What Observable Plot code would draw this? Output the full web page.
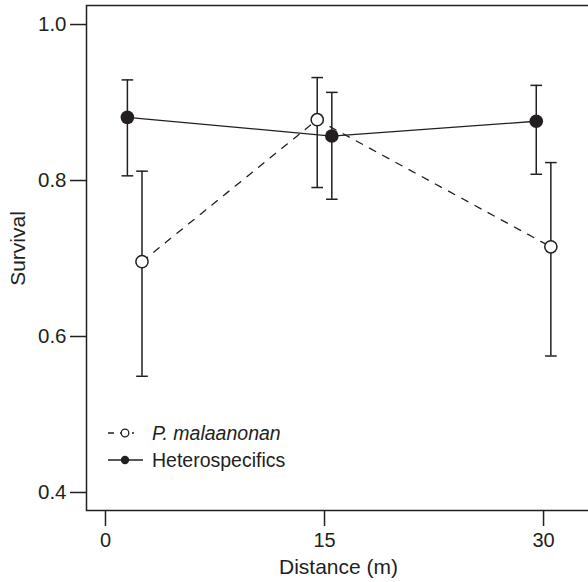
<!DOCTYPE html>
<html><head><meta charset="utf-8">
<script src="https://cdn.jsdelivr.net/npm/d3@7"></script>
<script src="https://cdn.jsdelivr.net/npm/@observablehq/plot@0.6"></script>
<style>html,body{margin:0;padding:0;overflow:hidden;background:#fff}#chart svg{max-width:none!important}</style>
</head><body><div id="chart"></div>
<script>
const series = ["P. malaanonan", "Heterospecifics"];
const xPM = [2.5, 14.5, 30.5];
const meanPM = [0.696, 0.878, 0.715];
const loPM = [0.549, 0.791, 0.575];
const hiPM = [0.812, 0.932, 0.823];
const xHet = [1.5, 15.5, 29.5];
const meanHet = [0.881, 0.857, 0.876];
const loHet = [0.806, 0.776, 0.808];
const hiHet = [0.929, 0.913, 0.922];
const xTicks = [0, 15, 30];
const yTicks = [0.4, 0.6, 0.8, 1.0];
const xLabel = "Distance (m)";
const yLabel = "Survival";

const ink = "#231f20";
const font = "Liberation Sans, Arial, Helvetica, sans-serif";
const W = 600, H = 582, ML = 86, MR = 0, MT = 5, MB = 72;

const pm = xPM.map((x, i) => ({x, m: meanPM[i], lo: loPM[i], hi: hiPM[i]}));
const het = xHet.map((x, i) => ({x, m: meanHet[i], lo: loHet[i], hi: hiHet[i]}));
const both = pm.concat(het);

const cap = {draw(ctx, size) { const w = Math.sqrt(size / Math.PI); ctx.moveTo(-w, 0); ctx.lineTo(w, 0); }};

function legend() {
  const g = d3.create("svg:g");
  const x0 = ML, y0 = H - MB;
  const rows = [y0 - 77, y0 - 50];
  g.append("line").attr("x1", x0 + 22).attr("x2", x0 + 48).attr("y1", rows[0]).attr("y2", rows[0])
    .attr("stroke", ink).attr("stroke-width", 1.3).attr("stroke-dasharray", "6,6");
  g.append("circle").attr("cx", x0 + 39).attr("cy", rows[0]).attr("r", 3.8)
    .attr("fill", "white").attr("stroke", ink).attr("stroke-width", 1.3);
  g.append("line").attr("x1", x0 + 22).attr("x2", x0 + 57).attr("y1", rows[1]).attr("y2", rows[1])
    .attr("stroke", ink).attr("stroke-width", 1.3);
  g.append("circle").attr("cx", x0 + 39).attr("cy", rows[1]).attr("r", 4.2).attr("fill", ink);
  series.forEach((s, i) => {
    g.append("text").attr("x", x0 + 66).attr("y", rows[i]).attr("dy", "0.35em")
      .attr("text-anchor", "start")
      .attr("fill", ink).attr("font-size", 19.5).attr("font-family", font)
      .attr("font-style", i === 0 ? "italic" : "normal").text(s);
  });
  return g.node();
}

const chart = Plot.plot({
  width: W, height: H,
  marginLeft: ML, marginRight: MR, marginTop: MT, marginBottom: MB,
  style: {fontFamily: font, color: ink, background: "white"},
  x: {domain: [-1.3, 33.9]},
  y: {domain: [0.3769, 1.0244]},
  marks: [
    Plot.frame({stroke: ink, strokeWidth: 1.5}),
    Plot.axisX({ticks: xTicks, tickSize: 16, tickPadding: 6, fontSize: 20, stroke: ink, strokeWidth: 1.5, fill: ink, label: null, tickFormat: d => String(d)}),
    Plot.axisY({ticks: yTicks, tickSize: 16, tickPadding: 4, fontSize: 20.5, stroke: ink, strokeWidth: 1.5, fill: ink, label: null, tickFormat: d3.format(".1f")}),
    Plot.text([xLabel], {frameAnchor: "bottom", dx: -5, dy: 57, fontSize: 21, fill: ink, lineAnchor: "middle", textAnchor: "middle"}),
    Plot.text([yLabel], {frameAnchor: "left", dx: -68, dy: -9.5, rotate: -90, fontSize: 21, fill: ink, lineAnchor: "middle", textAnchor: "middle"}),
    Plot.ruleX(both, {x: "x", y1: "lo", y2: "hi", stroke: ink, strokeWidth: 1.5}),
    Plot.dot(both, {x: "x", y: "lo", symbol: cap, r: 5.8, stroke: ink, strokeWidth: 1.5, fill: "none"}),
    Plot.dot(both, {x: "x", y: "hi", symbol: cap, r: 5.8, stroke: ink, strokeWidth: 1.5, fill: "none"}),
    Plot.line(pm, {x: "x", y: "m", stroke: ink, strokeWidth: 1.3, strokeDasharray: "7,8"}),
    Plot.line(het, {x: "x", y: "m", stroke: ink, strokeWidth: 1.3}),
    Plot.dot(pm, {x: "x", y: "m", r: 6.1, fill: "white", stroke: ink, strokeWidth: 1.5}),
    Plot.dot(het, {x: "x", y: "m", r: 6.8, fill: ink, stroke: "none"}),
    legend
  ]
});
chart.style.maxWidth = "none";
document.getElementById("chart").appendChild(chart);
</script>
</body></html>
